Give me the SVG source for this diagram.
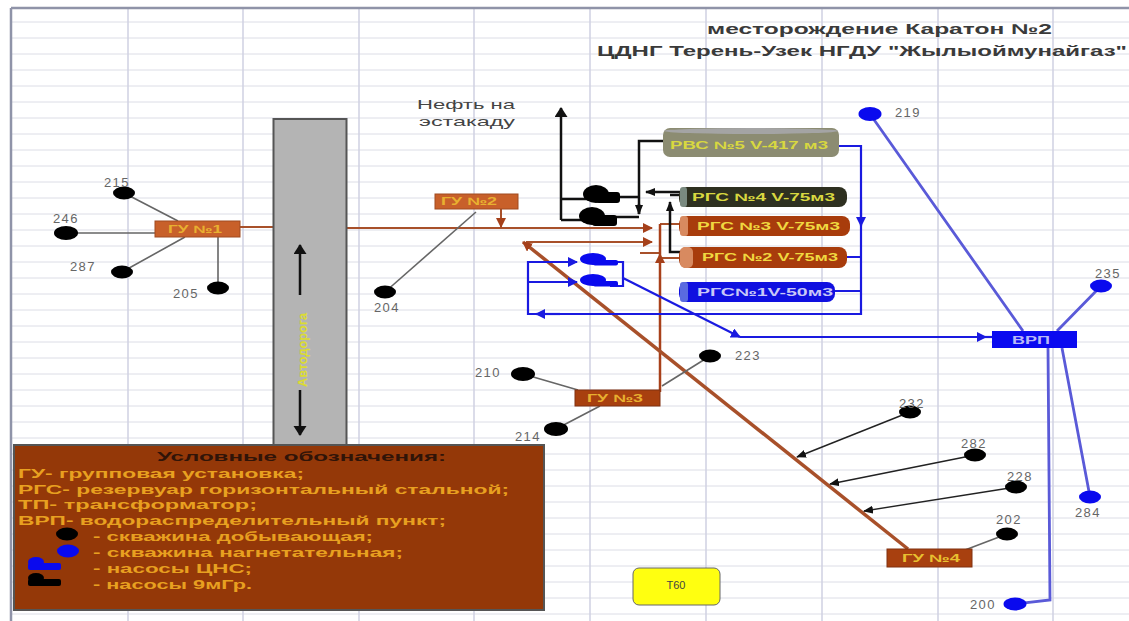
<svg xmlns="http://www.w3.org/2000/svg" width="1129" height="621" viewBox="0 0 1129 621">
<style>
text{font-family:"Liberation Sans",Arial,sans-serif}
.g{stroke:#dcdde6;stroke-width:1;fill:none}
.v{stroke:#cfd1e2;stroke-width:1.5;fill:none}
.n{font-size:13px;fill:#666;text-anchor:middle;letter-spacing:1.5px}
.l{font-size:11px;font-weight:bold}
.k{fill:#000}.b{fill:#0a0aee}
.bk{stroke:#111;stroke-width:2.5;fill:none}
.bl{stroke:#1a1ae0;stroke-width:2.2;fill:none}
.lb{stroke:#5a5ad8;stroke-width:2.8;fill:none}
.br{stroke:#a8502a;stroke-width:2;fill:none}
.gr{stroke:#666;stroke-width:1.6;fill:none}
.th{stroke:#222;stroke-width:1.4;fill:none}
.lg{font-size:13px;fill:#e8a020;font-weight:bold}
</style>
<defs>
<marker id="ak" markerUnits="userSpaceOnUse" markerWidth="12" markerHeight="10" refX="9" refY="4" orient="auto"><path d="M0 0L10 4L0 8z" fill="#111"/></marker>
<marker id="akb" markerUnits="userSpaceOnUse" markerWidth="12" markerHeight="14" refX="9" refY="6.500" orient="auto"><path d="M0 0L10 6.500L0 13z" fill="#111"/></marker>
<marker id="ab" markerUnits="userSpaceOnUse" markerWidth="12" markerHeight="12" refX="9" refY="5" orient="auto"><path d="M0 0L10 5L0 10z" fill="#1a1ae0"/></marker>
<marker id="ar" markerUnits="userSpaceOnUse" markerWidth="12" markerHeight="12" refX="9" refY="5" orient="auto"><path d="M0 0L10 5L0 10z" fill="#a5401a"/></marker>
</defs>
<rect width="1129" height="621" fill="#fff"/>
<g id="grid">
<path class="g" d="M12 22H1129M12 38H1129M12 54H1129M12 70H1129M12 86H1129M12 102H1129M12 118H1129M12 134H1129M12 150H1129M12 166H1129M12 182H1129M12 198H1129M12 214H1129M12 230H1129M12 246H1129M12 262H1129M12 278H1129M12 294H1129M12 310H1129M12 326H1129M12 342H1129M12 358H1129M12 374H1129M12 390H1129M12 406H1129M12 422H1129M12 438H1129M12 454H1129M12 470H1129M12 486H1129M12 502H1129M12 518H1129M12 534H1129M12 550H1129M12 566H1129M12 582H1129M12 598H1129M12 614H1129"/>
<path class="v" d="M128 8V621M243 8V621M359 8V621M474 8V621M590 8V621M706 8V621M822 8V621M938 8V621M1053 8V621"/>
<path d="M11 8H1129M11 8V621" stroke="#8f93a8" stroke-width="2.5" fill="none"/>
</g>
<g id="connectors">
<path class="gr" d="M124 193L178 221M66 233H155M122 272L185 237M218 237V288"/>
<path class="br" d="M240 227H274"/>
<path class="br" d="M347 228H652" marker-end="url(#ar)"/>
<path class="br" d="M501 209V227" marker-end="url(#ar)"/>
<path class="gr" d="M385 292L476 212"/>
<path class="br" d="M526 242H652" marker-end="url(#ar)"/>
<path class="br" d="M640 253H660M660 224H680M660 258H680"/>
<path d="M660 224V392" stroke="#a8401a" stroke-width="2.5" fill="none"/>
<path class="br" d="M660 262V254" marker-end="url(#ar)"/>
<path d="M908 549L523 242" stroke="#a8502a" stroke-width="3.500" fill="none" marker-end="url(#ar)"/>
<path class="bk" d="M561 220V108" marker-end="url(#akb)"/>
<path class="bk" d="M561 199H590M612 197H639M561 220H590M610 217H639M664 141H639V214"/>
<path class="bk" d="M639 204V214" marker-end="url(#ak)"/>
<path class="bk" d="M680 192H646" marker-end="url(#ak)"/>
<path class="bk" d="M680 252H670V202" marker-end="url(#ak)"/>
<path class="bk" d="M670 195H680"/>
<path class="bl" d="M837 146H861V314H528V262H573M528 282H574M610 262H623V286H610M861 257H847M861 291H835"/>
<path class="bl" d="M861 200V226" marker-end="url(#ab)"/>
<path class="bl" d="M560 314H536" marker-end="url(#ab)"/>
<path class="bl" d="M535 262H577" marker-end="url(#ab)"/>
<path class="bl" d="M535 282H577" marker-end="url(#ab)"/>
<path class="bl" d="M623 278L740 337" marker-end="url(#ab)"/>
<path class="bl" d="M740 337H986" marker-end="url(#ab)"/>
<path class="bl" d="M980 337H992"/>
<path class="gr" d="M523 374L578 390M556 429L600 406M662 386L710 356"/>
<path class="lb" d="M870 114L1023 331M1057 331L1101 286M1062 348L1090 497M1048 348L1050 600L1015 604"/>
<path class="th" d="M910 412L797 457" marker-end="url(#ak)"/>
<path class="th" d="M975 455L830 484" marker-end="url(#ak)"/>
<path class="th" d="M1016 487L864 511" marker-end="url(#ak)"/>
<path class="gr" d="M1007 534L965 550"/>
</g>
<g id="title" font-weight="bold" fill="#3a3a3a" font-size="14">
<text x="707" y="34" textLength="345" lengthAdjust="spacingAndGlyphs">месторождение Каратон №2</text>
<text x="597" y="56" textLength="530" lengthAdjust="spacingAndGlyphs">ЦДНГ Терень-Узек  НГДУ "Жылыоймунайгаз"</text>
</g>
<g id="oil-label" fill="#444" font-size="13">
<text x="417" y="109" textLength="98" lengthAdjust="spacingAndGlyphs">Нефть на</text><text x="419" y="126" textLength="96" lengthAdjust="spacingAndGlyphs">эстакаду</text>
</g>
<g id="road">
<rect x="273.500" y="119" width="73" height="326" fill="#b4b4b4" stroke="#555" stroke-width="2"/>
<path class="bk" d="M300 295V245" marker-end="url(#akb)"/>
<path class="bk" d="M300 390V435" marker-end="url(#akb)"/>
<text transform="translate(307 350) rotate(-90)" font-size="13" font-weight="bold" fill="#dcdc30" text-anchor="middle" textLength="74" lengthAdjust="spacingAndGlyphs">Автодорога</text>
</g>
<g id="gu1"><rect x="155" y="221" width="85" height="16" fill="#c8602a" stroke="#a04a20"/><text class="l" x="168" y="233" fill="#e8b030" textLength="54" lengthAdjust="spacingAndGlyphs">ГУ №1</text></g>
<g id="gu2"><rect x="435" y="194" width="83" height="15" fill="#c8602a" stroke="#a04a20"/><text class="l" x="441" y="205" fill="#e8b030" textLength="56" lengthAdjust="spacingAndGlyphs">ГУ №2</text></g>
<g id="gu3"><rect x="575" y="390" width="85" height="16" fill="#a8400f" stroke="#803010"/><text class="l" x="587" y="402" fill="#e8b030" textLength="56" lengthAdjust="spacingAndGlyphs">ГУ №3</text></g>
<g id="gu4"><rect x="887" y="549" width="85" height="18" fill="#a8400f" stroke="#803010"/><text class="l" x="902" y="562" fill="#e8c030" textLength="58" lengthAdjust="spacingAndGlyphs">ГУ №4</text></g>
<g id="rvs"><rect x="663" y="128" width="176" height="29" rx="7" fill="#8c8c72"/><ellipse cx="751" cy="131" rx="87" ry="3" fill="#a4a4a4"/><text class="l" x="670" y="149" fill="#d8d840" textLength="158" lengthAdjust="spacingAndGlyphs">РВС №5 V-417 м3</text></g>
<g id="rgs4"><rect x="679" y="187" width="168" height="20" rx="8" fill="#2e3020"/><rect x="680" y="187" width="7" height="20" rx="3" fill="#7a8a80"/><text class="l" x="692" y="201" fill="#d8d840" textLength="143" lengthAdjust="spacingAndGlyphs">РГС №4 V-75м3</text></g>
<g id="rgs3"><rect x="679" y="216" width="171" height="20" rx="8" fill="#a83c0c"/><rect x="680" y="216" width="8" height="20" rx="3" fill="#d88a60"/><text class="l" x="697" y="230" fill="#f0d840" textLength="143" lengthAdjust="spacingAndGlyphs">РГС №3 V-75м3</text></g>
<g id="rgs2"><rect x="679" y="247" width="168" height="21" rx="8" fill="#a83c0c"/><rect x="680" y="247" width="13" height="21" rx="5" fill="#d88a60"/><text class="l" x="702" y="261" fill="#f0d840" textLength="136" lengthAdjust="spacingAndGlyphs">РГС №2 V-75м3</text></g>
<g id="rgs1"><rect x="679" y="282" width="156" height="20" rx="8" fill="#1010e0"/><rect x="680" y="282" width="8" height="20" rx="3" fill="#5a6ae0"/><text class="l" x="697" y="296" fill="#c8c8f8" textLength="136" lengthAdjust="spacingAndGlyphs">РГС№1V-50м3</text></g>
<g id="vrp"><rect x="992" y="331" width="85" height="17" fill="#0a0af0"/><text class="l" x="1012" y="344" fill="#b8b8f8" textLength="38" lengthAdjust="spacingAndGlyphs">ВРП</text></g>
<g id="pumps">
<g class="k"><ellipse cx="596" cy="194" rx="13" ry="9"/><rect x="596" y="192" width="24" height="11" rx="3"/><ellipse cx="592" cy="216" rx="13" ry="9"/><rect x="592" y="215" width="25" height="11" rx="3"/></g>
<g class="b"><ellipse cx="593" cy="259" rx="13" ry="6"/><rect x="593" y="260" width="25" height="5.500" rx="2"/><ellipse cx="593" cy="280" rx="13" ry="6"/><rect x="593" y="281" width="25" height="5.500" rx="2"/></g>
</g>
<g id="wells-prod">
<g id="w215"><ellipse class="k" cx="124" cy="193" rx="11" ry="6.500"/><text class="n" x="117" y="187">215</text></g>
<g id="w246"><ellipse class="k" cx="66" cy="233" rx="12" ry="7"/><text class="n" x="66" y="223">246</text></g>
<g id="w287"><ellipse class="k" cx="122" cy="272" rx="11" ry="6.500"/><text class="n" x="83" y="271">287</text></g>
<g id="w205"><ellipse class="k" cx="218" cy="288" rx="11" ry="6.500"/><text class="n" x="186" y="298">205</text></g>
<g id="w204"><ellipse class="k" cx="385" cy="292" rx="11" ry="6.500"/><text class="n" x="387" y="312">204</text></g>
<g id="w210"><ellipse class="k" cx="523" cy="374" rx="12" ry="7"/><text class="n" x="488" y="377">210</text></g>
<g id="w214"><ellipse class="k" cx="556" cy="429" rx="12" ry="7"/><text class="n" x="528" y="441">214</text></g>
<g id="w223"><ellipse class="k" cx="710" cy="356" rx="11" ry="6.500"/><text class="n" x="748" y="360">223</text></g>
<g id="w232"><ellipse class="k" cx="910" cy="412" rx="11" ry="6.500"/><text class="n" x="912" y="408">232</text></g>
<g id="w282"><ellipse class="k" cx="975" cy="455" rx="11" ry="6.500"/><text class="n" x="974" y="448">282</text></g>
<g id="w228"><ellipse class="k" cx="1016" cy="487" rx="11" ry="6.500"/><text class="n" x="1020" y="481">228</text></g>
<g id="w202"><ellipse class="k" cx="1007" cy="534" rx="11" ry="6.500"/><text class="n" x="1009" y="524">202</text></g>
</g>
<g id="wells-inj">
<g id="w219"><ellipse class="b" cx="870" cy="114" rx="11.500" ry="7"/><text class="n" x="908" y="117">219</text></g>
<g id="w235"><ellipse class="b" cx="1101" cy="286" rx="11" ry="6.500"/><text class="n" x="1108" y="278">235</text></g>
<g id="w284"><ellipse class="b" cx="1090" cy="497" rx="11" ry="6.500"/><text class="n" x="1088" y="517">284</text></g>
<g id="w200"><ellipse class="b" cx="1015" cy="604" rx="11.500" ry="6.500"/><text class="n" x="983" y="609">200</text></g>
</g>
<g id="tp"><rect x="633" y="568" width="87" height="37" rx="6" fill="#ffff10" stroke="#666"/><text x="676" y="589" font-size="11" fill="#444" text-anchor="middle">Т60</text></g>
<g id="legend">
<rect x="14" y="445" width="530" height="165" fill="#943808" stroke="#555" stroke-width="2"/>
<text x="157" y="461" font-size="13" font-weight="bold" fill="#301408" textLength="289" lengthAdjust="spacingAndGlyphs">Условные  обозначения:</text>
<text class="lg" x="18" y="478" textLength="286" lengthAdjust="spacingAndGlyphs">ГУ- групповая установка;</text>
<text class="lg" x="18" y="494" textLength="491" lengthAdjust="spacingAndGlyphs">РГС- резервуар горизонтальный стальной;</text>
<text class="lg" x="18" y="509" textLength="239" lengthAdjust="spacingAndGlyphs">ТП- трансформатор;</text>
<text class="lg" x="18" y="525" textLength="428" lengthAdjust="spacingAndGlyphs">ВРП- водораспределительный пункт;</text>
<text class="lg" x="93" y="541" textLength="280" lengthAdjust="spacingAndGlyphs">- скважина добывающая;</text>
<text class="lg" x="93" y="557" textLength="310" lengthAdjust="spacingAndGlyphs">- скважина нагнетательная;</text>
<text class="lg" x="93" y="573" textLength="159" lengthAdjust="spacingAndGlyphs">- насосы ЦНС;</text>
<text class="lg" x="93" y="589" textLength="159" lengthAdjust="spacingAndGlyphs">- насосы 9мГр.</text>
<ellipse class="k" cx="67" cy="534" rx="11" ry="6.500"/>
<ellipse class="b" cx="68" cy="551" rx="11" ry="6.500"/>
<ellipse class="b" cx="36" cy="562" rx="8" ry="5"/><rect class="b" x="28" y="563" width="33" height="7" rx="2"/>
<ellipse class="k" cx="36" cy="578" rx="8" ry="5"/><rect class="k" x="28" y="579" width="33" height="7" rx="2"/>
</g>
</svg>
